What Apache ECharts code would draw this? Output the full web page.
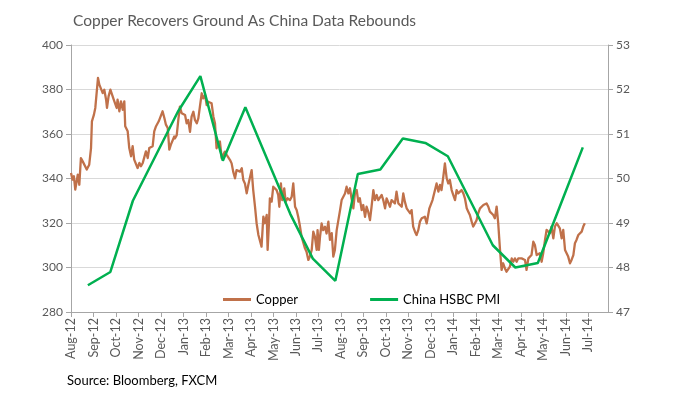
<!DOCTYPE html>
<html><head><meta charset="utf-8">
<script src="https://cdn.jsdelivr.net/npm/echarts@6/dist/echarts.min.js"></script>
<style>html,body{margin:0;padding:0;background:#fff}#c{width:680px;height:401px}</style>
</head><body><div id="c"></div>
<script>
// Month tick labels (x axis, month index 0 = 1 Aug 2012)
const monthLabels = ['Aug-12','Sep-12','Oct-12','Nov-12','Dec-12','Jan-13','Feb-13','Mar-13','Apr-13','May-13','Jun-13','Jul-13','Aug-13','Sep-13','Oct-13','Nov-13','Dec-13','Jan-14','Feb-14','Mar-14','Apr-14','May-14','Jun-14','Jul-14'];

// Copper: time in months since 1 Aug 2012, price (US cents/lb)
const copperT = [0.00,0.07,0.13,0.19,0.30,0.37,0.44,0.52,0.59,0.70,0.81,0.89,0.93,1.02,1.08,1.16,1.20,1.26,1.33,1.41,1.48,1.56,1.60,1.67,1.75,1.82,1.90,1.97,2.03,2.07,2.15,2.22,2.30,2.37,2.41,2.52,2.59,2.67,2.74,2.81,2.89,2.96,3.04,3.11,3.19,3.26,3.33,3.41,3.48,3.56,3.63,3.70,3.78,3.90,3.97,4.07,4.15,4.22,4.30,4.37,4.44,4.52,4.59,
4.62,4.70,4.77,4.84,4.92,4.99,5.07,5.14,5.21,5.29,5.36,5.44,5.51,5.59,5.66,5.73,5.81,5.88,5.96,6.03,6.10,6.18,6.25,6.33,6.40,6.47,6.55,6.62,6.70,6.77,6.84,6.92,6.99,7.07,7.14,7.21,7.29,7.36,7.44,7.51,7.59,7.66,7.73,7.81,7.88,7.96,8.03,8.10,8.18,8.25,8.33,8.40,8.47,8.55,8.62,8.70,8.74,8.80,8.84,8.92,8.99,9.07,9.14,9.21,9.26,
9.33,9.39,9.48,9.54,9.63,9.73,9.81,9.88,9.96,10.03,10.10,10.18,10.25,10.33,10.40,10.47,10.55,10.62,10.70,10.77,10.84,10.92,10.96,11.02,11.07,11.14,11.21,11.29,11.36,11.44,11.51,11.59,11.66,11.73,11.81,11.88,11.96,12.03,12.10,12.18,12.25,12.33,12.40,12.47,12.55,12.62,12.70,12.77,12.84,12.92,12.99,13.07,13.14,13.21,13.29,13.36,13.44,13.51,13.59,13.66,13.73,13.81,13.88,
13.96,14.03,14.10,14.18,14.25,14.33,14.40,14.47,14.55,14.62,14.70,14.77,14.84,14.92,14.99,15.07,15.14,15.21,15.29,15.36,15.44,15.51,15.59,15.66,15.73,15.81,15.88,15.93,15.98,16.07,16.13,16.18,16.25,16.33,16.40,16.47,16.55,16.62,16.70,16.77,16.84,16.92,16.99,17.07,17.14,17.21,17.29,17.36,17.44,17.51,17.59,17.66,17.73,17.81,17.88,17.96,18.03,18.10,18.18,18.25,18.33,18.40,18.47,18.55,
18.62,18.70,18.77,18.84,18.92,18.96,18.99,19.07,19.14,19.21,19.29,19.36,19.44,19.51,19.59,19.66,19.73,19.81,19.88,19.96,20.03,20.10,20.18,20.25,20.33,20.40,20.47,20.55,20.62,20.70,20.77,20.84,20.92,20.99,21.07,21.14,21.21,21.29,21.36,21.44,21.51,21.59,21.66,21.73,21.81,21.88,21.96,22.03,22.10,22.18,22.25,22.33,22.40,22.47,22.55,22.62,22.70,22.77,22.84];
const copperV = [342.5,339.5,341.0,335.0,341.7,337.2,349.2,347.7,347.0,344.0,346.2,353.7,365.7,368.7,371.7,372.4,385.2,382.2,382.9,378.4,379.9,375.4,371.7,376.9,379.9,379.2,375.4,374.7,371.7,375.4,370.2,374.7,370.9,374.7,363.5,361.2,353.7,350.0,354.5,348.5,347.7,344.7,347.0,345.5,347.0,346.2,352.2,349.2,353.7,353.0,354.5,361.2,363.5,365.7,365.0,370.2,367.2,364.2,362.7,353.0,355.2,354.5,358.9,
358.0,359.5,366.3,372.3,369.3,370.0,368.5,364.8,366.3,361.0,367.8,370.0,366.3,364.8,367.0,372.3,378.3,376.0,377.5,373.0,374.5,373.8,373.8,367.8,364.8,353.6,352.8,356.6,349.1,349.1,352.1,350.6,349.8,348.3,346.8,343.1,340.1,343.8,344.6,343.1,344.6,339.3,337.8,333.3,337.1,336.3,343.8,334.8,327.3,319.9,314.6,313.9,309.4,322.9,319.9,323.6,307.9,319.9,331.1,329.6,336.3,335.6,334.8,332.6,327.3,
337.8,330.3,335.6,329.6,331.1,330.3,331.8,337.8,327.3,325.8,322.8,318.4,313.9,313.1,308.6,307.1,303.4,304.9,307.9,316.1,313.9,307.9,316.8,307.9,313.9,319.8,316.8,318.3,315.3,320.6,312.4,315.4,304.9,307.9,316.8,316.8,325.8,330.3,330.3,333.3,336.3,333.3,335.6,331.1,326.6,333.3,334.8,329.6,331.1,325.8,328.1,322.8,327.3,325.1,321.3,327.3,334.8,330.3,332.6,330.3,330.3,332.6,330.3,
326.6,331.1,330.3,327.3,330.3,331.1,328.8,334.1,328.8,328.1,327.3,333.3,329.6,326.6,325.8,324.4,325.8,318.4,316.1,314.6,316.9,320.6,322.1,321.3,322.8,319.8,320.6,326.6,327.3,330.3,330.3,334.8,337.8,334.1,337.1,334.8,340.8,346.8,340.1,337.8,339.3,334.8,332.6,330.3,334.8,333.3,334.1,334.8,333.3,331.1,326.6,325.1,323.6,320.6,318.4,318.4,321.3,324.3,326.6,327.3,328.1,328.8,328.8,327.3,
325.1,324.4,323.6,322.1,327.4,326.6,319.9,307.9,298.9,301.9,299.6,298.1,297.4,300.4,304.1,302.6,304.1,302.6,304.1,303.4,304.1,304.9,303.4,298.9,304.1,304.9,305.6,311.6,310.1,305.6,304.9,306.4,302.6,306.4,312.4,316.9,316.1,315.4,318.4,313.1,318.4,319.9,319.1,317.6,313.1,316.9,307.9,307.1,304.9,301.9,303.4,305.6,310.9,312.4,314.6,315.4,316.1,318.4,319.9];

// China HSBC manufacturing PMI, Aug-12 .. Jun-14 (plotted late in each month)
const pmiValues = [47.6,47.9,49.5,50.5,51.5,52.3,50.4,51.6,50.4,49.2,48.2,47.7,50.1,50.2,50.9,50.8,50.5,49.5,48.5,48.0,48.1,49.4,50.7];
const pmiDayFraction = 0.75;

const leftTicks = {min: 280, max: 400, step: 20};
const rightTicks = {min: 47, max: 53, step: 1};
const xMax = 23.87;

const copperData = copperT.map((t, i) => [t, copperV[i]]);
const pmiData = pmiValues.map((v, i) => [i + pmiDayFraction, v]);

const chart = echarts.init(document.getElementById('c'), null, {renderer: 'canvas'});
const txt = '#595959';
const font = 'Lato, "Open Sans", sans-serif';
chart.setOption({
  animation: false,
  backgroundColor: '#ffffff',
  title: {
    text: 'Copper Recovers Ground As China Data Rebounds',
    left: 68, top: 8,
    textStyle: {fontFamily: font, fontSize: 15.5, fontWeight: 'normal', color: txt}
  },
  graphic: [{
    type: 'text', left: 67, top: 374,
    style: {text: 'Source: Bloomberg, FXCM', fontFamily: font, fontSize: 13, fill: '#000000'}
  }],
  legend: {
    left: 218, top: 288,
    itemWidth: 28, itemHeight: 3, itemGap: 72,
    icon: 'rect',
    textStyle: {fontFamily: font, fontSize: 13, color: '#000'},
    data: ['Copper', 'China HSBC PMI']
  },
  grid: {left: 71, right: 72, top: 45, bottom: 89, containLabel: false},
  xAxis: {
    type: 'value', min: 0, max: xMax, interval: 1,
    axisLine: {show: true, lineStyle: {color: '#a6a6a6', width: 1}},
    axisTick: {show: true, length: 5, lineStyle: {color: '#a6a6a6'}},
    splitLine: {show: false},
    axisLabel: {
      rotate: 90, margin: 6, fontFamily: font, fontSize: 12.5, color: txt,
      showMaxLabel: false,
      formatter: v => {
        const r = Math.round(v);
        return Math.abs(v - r) < 1e-6 && monthLabels[r] ? monthLabels[r] : '';
      }
    }
  },
  yAxis: [{
    type: 'value', min: leftTicks.min, max: leftTicks.max, interval: leftTicks.step,
    axisLine: {show: true, lineStyle: {color: '#a6a6a6'}},
    axisTick: {show: true, length: 5, lineStyle: {color: '#a6a6a6'}},
    splitLine: {show: true, lineStyle: {color: '#d9d9d9', width: 1}},
    axisLabel: {fontFamily: font, fontSize: 12, color: txt, margin: 8}
  }, {
    type: 'value', min: rightTicks.min, max: rightTicks.max, interval: rightTicks.step,
    position: 'right',
    axisLine: {show: true, lineStyle: {color: '#a6a6a6'}},
    axisTick: {show: true, length: 5, lineStyle: {color: '#a6a6a6'}},
    splitLine: {show: false},
    axisLabel: {fontFamily: font, fontSize: 12, color: txt, margin: 8}
  }],
  series: [{
    name: 'Copper', type: 'line', yAxisIndex: 0, data: copperData,
    showSymbol: false, symbol: 'none',
    lineStyle: {color: '#c0714a', width: 2.3, join: 'round'},
    itemStyle: {color: '#c0714a'}, z: 2
  }, {
    name: 'China HSBC PMI', type: 'line', yAxisIndex: 1, data: pmiData,
    showSymbol: false, symbol: 'none',
    lineStyle: {color: '#00b050', width: 2.5},
    itemStyle: {color: '#00b050'}, z: 3
  }]
});
</script>
</body></html>
